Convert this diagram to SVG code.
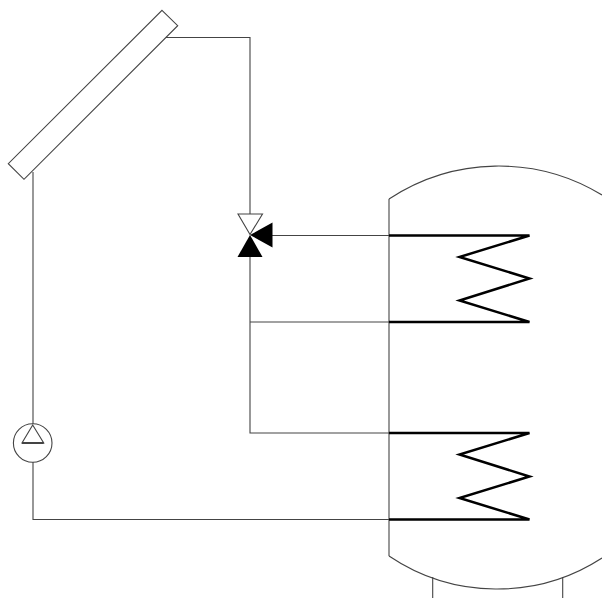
<svg xmlns="http://www.w3.org/2000/svg" width="602" height="598" viewBox="0 0 602 598">
<style>
.l{fill:none;stroke:#444;stroke-width:1.1}
.c{fill:none;stroke:#000;stroke-width:2.5;stroke-linejoin:miter}
</style>
<rect width="602" height="598" fill="#fff"/>
<g id="connectors" class="l">
<path d="M166 37.5H250V214"/>
<path d="M33 172V424"/>
<path d="M33 462V519.5H389"/>
<path d="M272 235.5H389"/>
<path d="M250 257V433H389"/>
<path d="M250 322H389"/>
</g>
<g id="collector"><polygon class="l" points="162,10.3 177.7,25.7 24,179.3 8.3,163.7" fill="#fff"/></g>
<g id="valve">
<polygon points="238,214 262.5,214 250,234.5" fill="#fff" stroke="#444" stroke-width="1.1"/>
<polygon points="250,235 272.5,222.5 272.5,247.5" fill="#000"/>
<polygon points="250,235 237.5,257 262.5,257" fill="#000"/>
</g>
<g id="pump">
<circle class="l" cx="32.7" cy="443" r="19.3"/>
<path class="l" d="M32.7 425L22 443H43.7Z"/>
<path d="M22 443H43.7" stroke="#444" stroke-width="2" fill="none"/>
</g>
<g id="tank" class="l">
<path d="M389 199A199 199 0 0 1 602 195"/>
<path d="M389 199V556"/>
<path d="M389 556A193 193 0 0 0 602 558"/>
<path d="M432.7 577V598M562.7 577V598"/>
</g>
<g id="coil-upper"><path class="c" d="M389 235.5H529.5L459.5 257L529.5 278.5L459.5 300.5L529.5 322H389"/></g>
<g id="coil-lower"><path class="c" d="M389 433H529.5L459.5 454.5L529.5 476.5L459.5 498L529.5 519.5H389"/></g>
</svg>
